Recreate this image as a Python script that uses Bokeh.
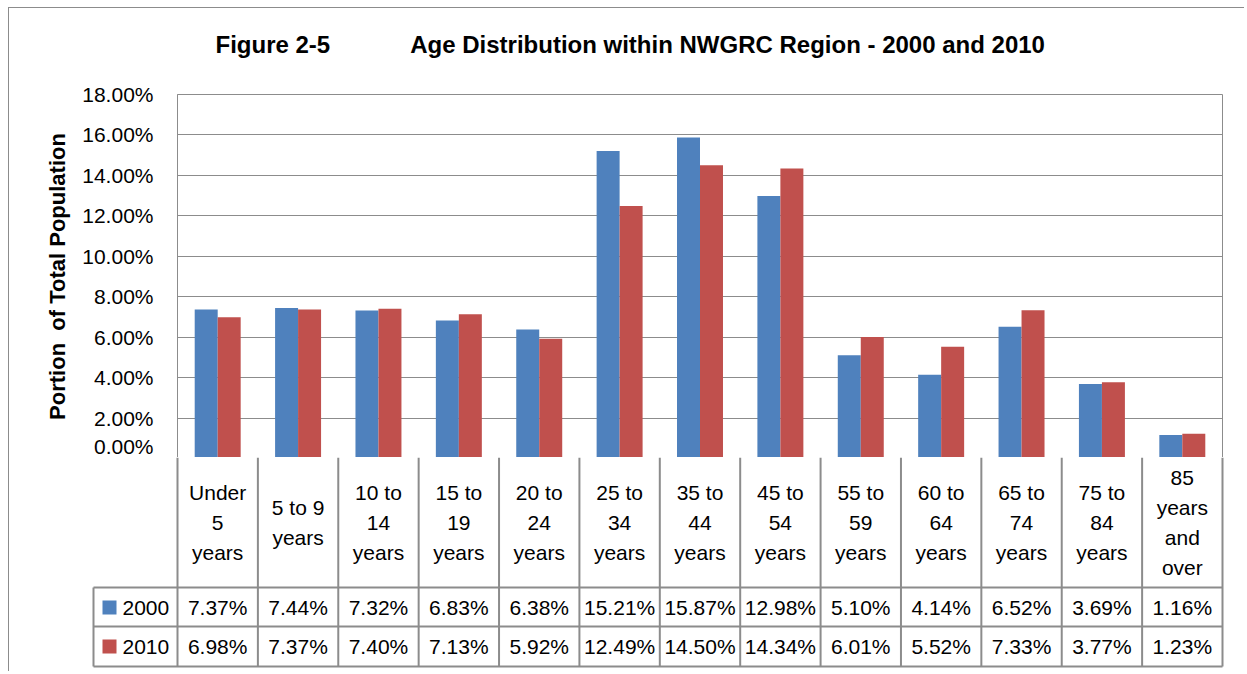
from bokeh.plotting import figure
from bokeh.models import (Range1d, FactorRange, FixedTicker, PrintfTickFormatter,
                          ColumnDataSource, Title)
from bokeh.transform import dodge
from bokeh.embed import file_html
from bokeh.resources import INLINE
from bokeh.core.properties import value

# ---------------- data ----------------
categories = ["Under 5 years", "5 to 9 years", "10 to 14 years", "15 to 19 years",
              "20 to 24 years", "25 to 34 years", "35 to 44 years", "45 to 54 years",
              "55 to 59 years", "60 to 64 years", "65 to 74 years", "75 to 84 years",
              "85 years and over"]
header_labels = ["Under\n5\nyears", "5 to 9\nyears", "10 to\n14\nyears", "15 to\n19\nyears",
                 "20 to\n24\nyears", "25 to\n34\nyears", "35 to\n44\nyears", "45 to\n54\nyears",
                 "55 to\n59\nyears", "60 to\n64\nyears", "65 to\n74\nyears", "75 to\n84\nyears",
                 "85\nyears\nand\nover"]
series_names = ["2000", "2010"]
values_2000 = [7.37, 7.44, 7.32, 6.83, 6.38, 15.21, 15.87, 12.98, 5.10, 4.14, 6.52, 3.69, 1.16]
values_2010 = [6.98, 7.37, 7.40, 7.13, 5.92, 12.49, 14.50, 14.34, 6.01, 5.52, 7.33, 3.77, 1.23]
y_ticks = [0, 2, 4, 6, 8, 10, 12, 14, 16, 18]
title_left = "Figure 2-5"
title_right = "Age Distribution within NWGRC Region - 2000 and 2010"
y_title = "Portion\u00a0 of Total Population"

# ---------------- style ----------------
FONT = "Liberation Sans"
BLUE = "#4F81BD"
RED = "#C0504D"
GRID = "#8c8c8c"
FS = "21px"
EDGE = "1px solid #8c8c8c"

# ---------------- chart ----------------
p = figure(width=1236, height=450,
           x_range=FactorRange(*categories, range_padding=0),
           y_range=Range1d(0, 18),
           output_backend="svg", toolbar_location=None,
           min_border_left=168, min_border_right=23,
           min_border_top=86, min_border_bottom=0,
           title=title_left + "\u00a0" * 12 + title_right,
           styles={"margin-left": "8px", "margin-top": "7px",
                   "border-left": EDGE, "border-top": EDGE})
p.title.text_font = FONT
p.title.text_font_size = "24px"
p.title.text_font_style = "bold"
p.title.text_color = "black"
p.title.align = "left"
p.title.offset = 38
p.title.standoff = 10

# empty spacer line between the frame and the title
spacer = Title(text="\u00a0", text_font=FONT, text_font_size="10px", standoff=19)
p.add_layout(spacer, "above")

p.xaxis.visible = False
p.xgrid.visible = False
p.ygrid.grid_line_color = GRID
p.ygrid.grid_line_width = 1
p.ygrid.ticker = FixedTicker(ticks=y_ticks)
p.outline_line_color = GRID
p.outline_line_width = 1

ax = p.yaxis[0]
ax.ticker = FixedTicker(ticks=y_ticks)
ax.formatter = PrintfTickFormatter(format="%.2f%%")
ax.major_label_text_font = FONT
ax.major_label_text_font_size = FS
ax.major_label_text_color = "black"
ax.major_tick_in = 0
ax.major_tick_out = 0
ax.minor_tick_in = 0
ax.minor_tick_out = 0
ax.axis_line_color = GRID
ax.major_label_standoff = 24
ax.axis_label = y_title
ax.axis_label_text_font = FONT
ax.axis_label_text_font_style = "bold"
ax.axis_label_text_font_size = "22px"
ax.axis_label_text_color = "black"
ax.axis_label_standoff = 9

src = ColumnDataSource(dict(cat=categories, v2000=values_2000, v2010=values_2010))
p.vbar(x=dodge("cat", -0.143, range=p.x_range), top="v2000", width=0.286,
       fill_color=BLUE, line_color=None, source=src)
p.vbar(x=dodge("cat", 0.143, range=p.x_range), top="v2010", width=0.286,
       fill_color=RED, line_color=None, source=src)

# ---------------- data table ----------------
n = len(categories)
unit = 1045.0 / n
t = figure(width=1236, height=214,
           x_range=Range1d(-86 / unit, n + 2 / unit),
           y_range=Range1d(-5, 209),
           output_backend="svg", toolbar_location=None,
           min_border_left=82, min_border_right=21,
           min_border_top=0, min_border_bottom=0,
           styles={"margin-left": "8px", "border-left": EDGE})
t.axis.visible = False
t.grid.visible = False
t.outline_line_color = None
t.title.visible = False

leg_left = -84 / unit
row_lines = [79, 40, 0]
t.segment(x0=[leg_left] * 3, x1=[n] * 3, y0=row_lines, y1=row_lines,
          line_color=GRID, line_width=2)
t.segment(x0=list(range(n + 1)), x1=list(range(n + 1)), y0=[0] * (n + 1), y1=[209] * (n + 1),
          line_color=GRID, line_width=2)
t.segment(x0=[leg_left], x1=[leg_left], y0=[0], y1=[79], line_color=GRID, line_width=2)

centers = [i + 0.5 for i in range(n)]
t.text(x=centers, y=[144] * n, text=header_labels, text_align="center",
       text_baseline="middle", text_font=value(FONT), text_font_size=FS,
       text_line_height=1.3, text_color="black")
t.text(x=centers, y=[59] * n, text=[f"{v:.2f}%" for v in values_2000], text_align="center",
       text_baseline="middle", text_font=value(FONT), text_font_size=FS, text_color="black")
t.text(x=centers, y=[20] * n, text=[f"{v:.2f}%" for v in values_2010], text_align="center",
       text_baseline="middle", text_font=value(FONT), text_font_size=FS, text_color="black")

t.scatter(x=[-68 / unit] * 2, y=[59, 20], marker="square", size=14,
          fill_color=[BLUE, RED], line_color=None)
t.text(x=[-55 / unit] * 2, y=[59, 20], text=series_names, text_align="left",
       text_baseline="middle", text_font=value(FONT), text_font_size=FS, text_color="black")

open("out.html", "w").write(file_html([p, t], INLINE))
